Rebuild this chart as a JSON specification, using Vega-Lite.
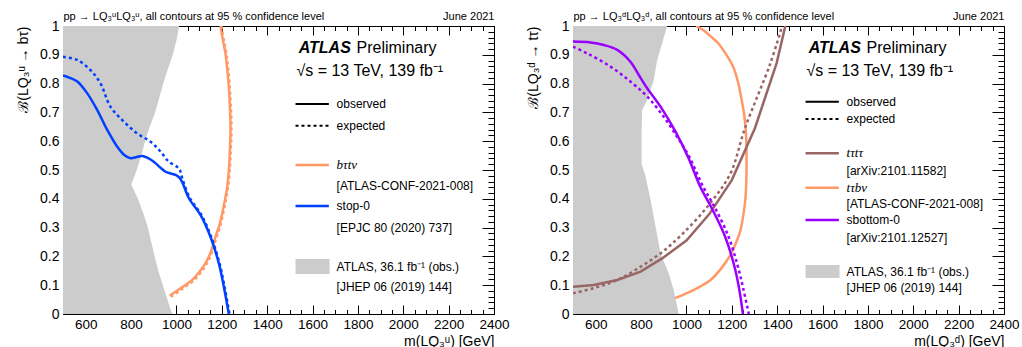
{
"$schema": "https://vega.github.io/schema/vega-lite/v6.json",
"background": "white",
"padding": {"left": 15, "top": 10, "right": 5, "bottom": 0},
"bounds": "flush",
"spacing": 79,
"config": {
  "view": {"stroke": null},
  "font": "Liberation Sans",
  "axis": {"grid": false, "zindex": 1, "tickColor": "black", "tickWidth": 1, "domainColor": "black", "domainWidth": 1, "labelColor": "black", "titleColor": "black", "labelFont": "Liberation Sans", "titleFont": "Liberation Sans", "titleFontWeight": "normal"}
},
"datasets": {
  "lg": [{"m":981,"b":0},{"m":960,"b":0.05},{"m":940,"b":0.1},{"m":920,"b":0.15},{"m":904,"b":0.2},{"m":889,"b":0.25},{"m":874,"b":0.3},{"m":854,"b":0.35},{"m":830,"b":0.4},{"m":801,"b":0.45},{"m":825,"b":0.5},{"m":845,"b":0.55},{"m":862,"b":0.6},{"m":882,"b":0.65},{"m":906,"b":0.7},{"m":924,"b":0.75},{"m":942,"b":0.8},{"m":962,"b":0.85},{"m":984,"b":0.9},{"m":1000,"b":0.95},{"m":1012,"b":1}],
  "rg": [{"m":966,"b":0},{"m":944,"b":0.083},{"m":922,"b":0.141},{"m":886,"b":0.21},{"m":864,"b":0.303},{"m":842,"b":0.396},{"m":820,"b":0.477},{"m":802,"b":0.523},{"m":802,"b":0.627},{"m":805,"b":0.708},{"m":827,"b":0.743},{"m":856,"b":0.8125},{"m":871,"b":0.882},{"m":893,"b":0.94},{"m":915,"b":1}],
  "ll": [
    {"series":"stop0","kind":"observed","i":1,"m":500,"b":0.828},
    {"series":"stop0","kind":"observed","i":2,"m":530,"b":0.82},
    {"series":"stop0","kind":"observed","i":3,"m":563,"b":0.807},
    {"series":"stop0","kind":"observed","i":4,"m":607,"b":0.766},
    {"series":"stop0","kind":"observed","i":5,"m":651,"b":0.708},
    {"series":"stop0","kind":"observed","i":6,"m":695,"b":0.639},
    {"series":"stop0","kind":"observed","i":7,"m":739,"b":0.581},
    {"series":"stop0","kind":"observed","i":8,"m":770,"b":0.552},
    {"series":"stop0","kind":"observed","i":9,"m":798,"b":0.541},
    {"series":"stop0","kind":"observed","i":10,"m":825,"b":0.545},
    {"series":"stop0","kind":"observed","i":11,"m":849,"b":0.549},
    {"series":"stop0","kind":"observed","i":12,"m":875,"b":0.541},
    {"series":"stop0","kind":"observed","i":13,"m":900,"b":0.529},
    {"series":"stop0","kind":"observed","i":14,"m":930,"b":0.508},
    {"series":"stop0","kind":"observed","i":15,"m":952,"b":0.494},
    {"series":"stop0","kind":"observed","i":16,"m":975,"b":0.488},
    {"series":"stop0","kind":"observed","i":17,"m":996,"b":0.483},
    {"series":"stop0","kind":"observed","i":18,"m":1012,"b":0.474},
    {"series":"stop0","kind":"observed","i":19,"m":1025,"b":0.459},
    {"series":"stop0","kind":"observed","i":20,"m":1055,"b":0.402},
    {"series":"stop0","kind":"observed","i":21,"m":1106,"b":0.344},
    {"series":"stop0","kind":"observed","i":22,"m":1150,"b":0.268},
    {"series":"stop0","kind":"observed","i":23,"m":1187,"b":0.176},
    {"series":"stop0","kind":"observed","i":24,"m":1209,"b":0.095},
    {"series":"stop0","kind":"observed","i":25,"m":1231,"b":0},
    {"series":"stop0","kind":"expected","i":1,"m":500,"b":0.893},
    {"series":"stop0","kind":"expected","i":2,"m":563,"b":0.882},
    {"series":"stop0","kind":"expected","i":3,"m":621,"b":0.847},
    {"series":"stop0","kind":"expected","i":4,"m":665,"b":0.801},
    {"series":"stop0","kind":"expected","i":5,"m":709,"b":0.72},
    {"series":"stop0","kind":"expected","i":6,"m":768,"b":0.668},
    {"series":"stop0","kind":"expected","i":7,"m":827,"b":0.627},
    {"series":"stop0","kind":"expected","i":8,"m":886,"b":0.598},
    {"series":"stop0","kind":"expected","i":9,"m":930,"b":0.564},
    {"series":"stop0","kind":"expected","i":10,"m":966,"b":0.529},
    {"series":"stop0","kind":"expected","i":11,"m":1003,"b":0.511},
    {"series":"stop0","kind":"expected","i":12,"m":1015,"b":0.5},
    {"series":"stop0","kind":"expected","i":13,"m":1028,"b":0.465},
    {"series":"stop0","kind":"expected","i":14,"m":1060,"b":0.402},
    {"series":"stop0","kind":"expected","i":15,"m":1110,"b":0.344},
    {"series":"stop0","kind":"expected","i":16,"m":1153,"b":0.268},
    {"series":"stop0","kind":"expected","i":17,"m":1190,"b":0.176},
    {"series":"stop0","kind":"expected","i":18,"m":1212,"b":0.095},
    {"series":"stop0","kind":"expected","i":19,"m":1234,"b":0},
    {"series":"btnu","kind":"observed","i":1,"m":971,"b":0.064},
    {"series":"btnu","kind":"observed","i":2,"m":1020,"b":0.09},
    {"series":"btnu","kind":"observed","i":3,"m":1077,"b":0.124},
    {"series":"btnu","kind":"observed","i":4,"m":1110,"b":0.155},
    {"series":"btnu","kind":"observed","i":5,"m":1136,"b":0.1875},
    {"series":"btnu","kind":"observed","i":6,"m":1156,"b":0.225},
    {"series":"btnu","kind":"observed","i":7,"m":1172,"b":0.268},
    {"series":"btnu","kind":"observed","i":8,"m":1190,"b":0.31},
    {"series":"btnu","kind":"observed","i":9,"m":1202,"b":0.35},
    {"series":"btnu","kind":"observed","i":10,"m":1215,"b":0.4},
    {"series":"btnu","kind":"observed","i":11,"m":1224,"b":0.442},
    {"series":"btnu","kind":"observed","i":12,"m":1231,"b":0.5},
    {"series":"btnu","kind":"observed","i":13,"m":1235,"b":0.558},
    {"series":"btnu","kind":"observed","i":14,"m":1238,"b":0.62},
    {"series":"btnu","kind":"observed","i":15,"m":1238,"b":0.674},
    {"series":"btnu","kind":"observed","i":16,"m":1235,"b":0.73},
    {"series":"btnu","kind":"observed","i":17,"m":1231,"b":0.789},
    {"series":"btnu","kind":"observed","i":18,"m":1224,"b":0.85},
    {"series":"btnu","kind":"observed","i":19,"m":1216,"b":0.905},
    {"series":"btnu","kind":"observed","i":20,"m":1205,"b":0.95},
    {"series":"btnu","kind":"observed","i":21,"m":1194,"b":1},
    {"series":"btnu","kind":"expected","i":1,"m":975,"b":0.06},
    {"series":"btnu","kind":"expected","i":2,"m":1024,"b":0.086},
    {"series":"btnu","kind":"expected","i":3,"m":1081,"b":0.12},
    {"series":"btnu","kind":"expected","i":4,"m":1114,"b":0.151},
    {"series":"btnu","kind":"expected","i":5,"m":1140,"b":0.184},
    {"series":"btnu","kind":"expected","i":6,"m":1160,"b":0.222},
    {"series":"btnu","kind":"expected","i":7,"m":1176,"b":0.265},
    {"series":"btnu","kind":"expected","i":8,"m":1194,"b":0.308},
    {"series":"btnu","kind":"expected","i":9,"m":1206,"b":0.35},
    {"series":"btnu","kind":"expected","i":10,"m":1219,"b":0.4},
    {"series":"btnu","kind":"expected","i":11,"m":1228,"b":0.442},
    {"series":"btnu","kind":"expected","i":12,"m":1235,"b":0.5},
    {"series":"btnu","kind":"expected","i":13,"m":1239,"b":0.558},
    {"series":"btnu","kind":"expected","i":14,"m":1242,"b":0.62},
    {"series":"btnu","kind":"expected","i":15,"m":1242,"b":0.674},
    {"series":"btnu","kind":"expected","i":16,"m":1239,"b":0.73},
    {"series":"btnu","kind":"expected","i":17,"m":1235,"b":0.789},
    {"series":"btnu","kind":"expected","i":18,"m":1228,"b":0.85},
    {"series":"btnu","kind":"expected","i":19,"m":1220,"b":0.905},
    {"series":"btnu","kind":"expected","i":20,"m":1209,"b":0.95},
    {"series":"btnu","kind":"expected","i":21,"m":1198,"b":1}
  ],
  "rl": [
    {"series":"sbottom0","kind":"observed","i":1,"m":500,"b":0.946},
    {"series":"sbottom0","kind":"observed","i":2,"m":577,"b":0.943},
    {"series":"sbottom0","kind":"observed","i":3,"m":636,"b":0.934},
    {"series":"sbottom0","kind":"observed","i":4,"m":695,"b":0.917},
    {"series":"sbottom0","kind":"observed","i":5,"m":753,"b":0.876},
    {"series":"sbottom0","kind":"observed","i":6,"m":790,"b":0.83},
    {"series":"sbottom0","kind":"observed","i":7,"m":827,"b":0.784},
    {"series":"sbottom0","kind":"observed","i":8,"m":886,"b":0.72},
    {"series":"sbottom0","kind":"observed","i":9,"m":952,"b":0.633},
    {"series":"sbottom0","kind":"observed","i":10,"m":1010,"b":0.54},
    {"series":"sbottom0","kind":"observed","i":11,"m":1062,"b":0.44},
    {"series":"sbottom0","kind":"observed","i":12,"m":1110,"b":0.37},
    {"series":"sbottom0","kind":"observed","i":13,"m":1170,"b":0.27},
    {"series":"sbottom0","kind":"observed","i":14,"m":1210,"b":0.17},
    {"series":"sbottom0","kind":"observed","i":15,"m":1232,"b":0.09},
    {"series":"sbottom0","kind":"observed","i":16,"m":1249,"b":0},
    {"series":"sbottom0","kind":"expected","i":1,"m":500,"b":0.928},
    {"series":"sbottom0","kind":"expected","i":2,"m":563,"b":0.905},
    {"series":"sbottom0","kind":"expected","i":3,"m":665,"b":0.859},
    {"series":"sbottom0","kind":"expected","i":4,"m":753,"b":0.807},
    {"series":"sbottom0","kind":"expected","i":5,"m":827,"b":0.755},
    {"series":"sbottom0","kind":"expected","i":6,"m":900,"b":0.685},
    {"series":"sbottom0","kind":"expected","i":7,"m":959,"b":0.615},
    {"series":"sbottom0","kind":"expected","i":8,"m":1010,"b":0.55},
    {"series":"sbottom0","kind":"expected","i":9,"m":1075,"b":0.44},
    {"series":"sbottom0","kind":"expected","i":10,"m":1125,"b":0.37},
    {"series":"sbottom0","kind":"expected","i":11,"m":1185,"b":0.27},
    {"series":"sbottom0","kind":"expected","i":12,"m":1225,"b":0.17},
    {"series":"sbottom0","kind":"expected","i":13,"m":1250,"b":0.09},
    {"series":"sbottom0","kind":"expected","i":14,"m":1275,"b":0},
    {"series":"tataa","kind":"observed","i":1,"m":500,"b":0.095},
    {"series":"tataa","kind":"observed","i":2,"m":592,"b":0.101},
    {"series":"tataa","kind":"observed","i":3,"m":695,"b":0.118},
    {"series":"tataa","kind":"observed","i":4,"m":798,"b":0.147},
    {"series":"tataa","kind":"observed","i":5,"m":893,"b":0.193},
    {"series":"tataa","kind":"observed","i":6,"m":1000,"b":0.255},
    {"series":"tataa","kind":"observed","i":7,"m":1100,"b":0.346},
    {"series":"tataa","kind":"observed","i":8,"m":1200,"b":0.465},
    {"series":"tataa","kind":"observed","i":9,"m":1302,"b":0.645},
    {"series":"tataa","kind":"observed","i":10,"m":1398,"b":0.872},
    {"series":"tataa","kind":"observed","i":11,"m":1436,"b":1},
    {"series":"tataa","kind":"expected","i":1,"m":500,"b":0.072},
    {"series":"tataa","kind":"expected","i":2,"m":592,"b":0.09},
    {"series":"tataa","kind":"expected","i":3,"m":695,"b":0.118},
    {"series":"tataa","kind":"expected","i":4,"m":798,"b":0.164},
    {"series":"tataa","kind":"expected","i":5,"m":893,"b":0.215},
    {"series":"tataa","kind":"expected","i":6,"m":985,"b":0.28},
    {"series":"tataa","kind":"expected","i":7,"m":1100,"b":0.38},
    {"series":"tataa","kind":"expected","i":8,"m":1194,"b":0.488},
    {"series":"tataa","kind":"expected","i":9,"m":1258,"b":0.645},
    {"series":"tataa","kind":"expected","i":10,"m":1370,"b":0.87},
    {"series":"tataa","kind":"expected","i":11,"m":1422,"b":1},
    {"series":"tbnu","kind":"observed","i":1,"m":950,"b":0.055},
    {"series":"tbnu","kind":"observed","i":2,"m":1010,"b":0.075},
    {"series":"tbnu","kind":"observed","i":3,"m":1060,"b":0.095},
    {"series":"tbnu","kind":"observed","i":4,"m":1106,"b":0.118},
    {"series":"tbnu","kind":"observed","i":5,"m":1150,"b":0.155},
    {"series":"tbnu","kind":"observed","i":6,"m":1194,"b":0.205},
    {"series":"tbnu","kind":"observed","i":7,"m":1220,"b":0.25},
    {"series":"tbnu","kind":"observed","i":8,"m":1238,"b":0.29},
    {"series":"tbnu","kind":"observed","i":9,"m":1252,"b":0.35},
    {"series":"tbnu","kind":"observed","i":10,"m":1260,"b":0.4},
    {"series":"tbnu","kind":"observed","i":11,"m":1264,"b":0.46},
    {"series":"tbnu","kind":"observed","i":12,"m":1265,"b":0.55},
    {"series":"tbnu","kind":"observed","i":13,"m":1263,"b":0.62},
    {"series":"tbnu","kind":"observed","i":14,"m":1255,"b":0.69},
    {"series":"tbnu","kind":"observed","i":15,"m":1242,"b":0.75},
    {"series":"tbnu","kind":"observed","i":16,"m":1226,"b":0.81},
    {"series":"tbnu","kind":"observed","i":17,"m":1205,"b":0.86},
    {"series":"tbnu","kind":"observed","i":18,"m":1172,"b":0.905},
    {"series":"tbnu","kind":"observed","i":19,"m":1140,"b":0.94},
    {"series":"tbnu","kind":"observed","i":20,"m":1106,"b":0.965},
    {"series":"tbnu","kind":"observed","i":21,"m":1075,"b":0.985},
    {"series":"tbnu","kind":"observed","i":22,"m":1043,"b":1}
  ]
},
"hconcat": [
{
  "width": 431, "height": 288,
  "resolve": {"axis": {"x": "independent", "y": "independent"}},
  "layer": [
    {"data": {"name": "lg"},
     "mark": {"type": "area", "orient": "horizontal", "fill": "#cccccc", "clip": true},
     "encoding": {
       "x": {"field": "m", "type": "quantitative", "scale": {"domain": [500, 2400], "nice": false, "zero": false},
             "axis": {"orient": "bottom", "values": [600,800,1000,1200,1400,1600,1800,2000,2200,2400], "format": "d", "tickSize": -9, "labelPadding": 12, "labelFontSize": 13.5, "labelOverlap": false, "labelFlush": false, "domain": true,
                      "title": "m(LQ₃ᵘ) [GeV]", "titleAnchor": "end", "titleAlign": "right", "titleFontSize": 14, "titleY": 31, "titleBaseline": "alphabetic"}},
       "x2": {"datum": 500},
       "y": {"field": "b", "type": "quantitative", "scale": {"domain": [0, 1], "nice": false, "zero": false},
             "axis": {"orient": "left", "values": [0,0.1,0.2,0.3,0.4,0.5,0.6,0.7,0.8,0.9,1], "format": ".1~f", "tickSize": -12, "labelPadding": 16, "labelFontSize": 14, "labelOverlap": false, "labelFlush": false, "domain": true,
                      "title": "ℬ(LQ₃ᵘ → bτ)", "titleAnchor": "end", "titleAlign": "right", "titleX": -40, "titleBaseline": "middle", "titleFontSize": 14}}
     }},
    {"data": {"name": "ll"},
     "transform": [{"filter": "datum.series === 'btnu' && datum.kind === 'observed'"}],
     "mark": {"type": "line", "stroke": "#ff9966", "strokeWidth": 2.5, "interpolate": "catmull-rom", "clip": true},
     "encoding": {
       "x": {"field": "m", "type": "quantitative", "scale": {"domain": [500, 2400], "nice": false, "zero": false},
             "axis": {"orient": "bottom", "values": [550,650,700,750,850,900,950,1050,1100,1150,1250,1300,1350,1450,1500,1550,1650,1700,1750,1850,1900,1950,2050,2100,2150,2250,2300,2350], "tickSize": -4.5, "labels": false, "domain": false, "title": null}},
       "y": {"field": "b", "type": "quantitative", "scale": {"domain": [0, 1], "nice": false, "zero": false},
             "axis": {"orient": "left", "values": [0.02,0.04,0.06,0.08,0.12,0.14,0.16,0.18,0.22,0.24,0.26,0.28,0.32,0.34,0.36,0.38,0.42,0.44,0.46,0.48,0.52,0.54,0.56,0.58,0.62,0.64,0.66,0.68,0.72,0.74,0.76,0.78,0.82,0.84,0.86,0.88,0.92,0.94,0.96,0.98], "tickSize": -6, "labels": false, "domain": false, "title": null}},
       "order": {"field": "i", "type": "quantitative"}
     }},
    {"data": {"name": "ll"},
     "transform": [{"filter": "datum.series === 'btnu' && datum.kind === 'expected'"}],
     "mark": {"type": "line", "stroke": "#ff9966", "strokeWidth": 2.5, "strokeDash": [3, 3], "interpolate": "catmull-rom", "clip": true},
     "encoding": {
       "x": {"field": "m", "type": "quantitative", "scale": {"domain": [500, 2400], "nice": false, "zero": false},
             "axis": {"orient": "top", "values": [600,800,1000,1200,1400,1600,1800,2000,2200,2400], "tickSize": -9, "labels": false, "domain": true,
                      "title": "June 2021", "titleAnchor": "end", "titleAlign": "right", "titleFontSize": 11, "titleY": -7, "titleBaseline": "alphabetic"}},
       "y": {"field": "b", "type": "quantitative", "scale": {"domain": [0, 1], "nice": false, "zero": false},
             "axis": {"orient": "right", "values": [0,0.1,0.2,0.3,0.4,0.5,0.6,0.7,0.8,0.9,1], "tickSize": -12, "labels": false, "domain": true, "title": null}},
       "order": {"field": "i", "type": "quantitative"}
     }},
    {"data": {"name": "ll"},
     "transform": [{"filter": "datum.series === 'stop0' && datum.kind === 'expected'"}],
     "mark": {"type": "line", "stroke": "#0040ff", "strokeWidth": 2.5, "strokeDash": [3, 3], "interpolate": "catmull-rom", "clip": true},
     "encoding": {
       "x": {"field": "m", "type": "quantitative", "scale": {"domain": [500, 2400], "nice": false, "zero": false},
             "axis": {"orient": "top", "values": [550,650,700,750,850,900,950,1050,1100,1150,1250,1300,1350,1450,1500,1550,1650,1700,1750,1850,1900,1950,2050,2100,2150,2250,2300,2350], "tickSize": -4.5, "labels": false, "domain": false,
                      "title": "pp → LQ₃ᵘLQ₃ᵘ, all contours at 95 % confidence level", "titleAnchor": "start", "titleAlign": "left", "titleFontSize": 11, "titleY": -7, "titleBaseline": "alphabetic"}},
       "y": {"field": "b", "type": "quantitative", "scale": {"domain": [0, 1], "nice": false, "zero": false},
             "axis": {"orient": "right", "values": [0.02,0.04,0.06,0.08,0.12,0.14,0.16,0.18,0.22,0.24,0.26,0.28,0.32,0.34,0.36,0.38,0.42,0.44,0.46,0.48,0.52,0.54,0.56,0.58,0.62,0.64,0.66,0.68,0.72,0.74,0.76,0.78,0.82,0.84,0.86,0.88,0.92,0.94,0.96,0.98], "tickSize": -6, "labels": false, "domain": false, "title": null}},
       "order": {"field": "i", "type": "quantitative"}
     }},
    {"data": {"name": "ll"},
     "transform": [{"filter": "datum.series === 'stop0' && datum.kind === 'observed'"}],
     "mark": {"type": "line", "stroke": "#0040ff", "strokeWidth": 2.5, "interpolate": "catmull-rom", "clip": true},
     "encoding": {
       "x": {"field": "m", "type": "quantitative", "axis": null},
       "y": {"field": "b", "type": "quantitative", "axis": null},
       "order": {"field": "i", "type": "quantitative"}
     }},
    {"data": {"values": [{}]}, "mark": {"type": "text", "text": "ATLAS", "align": "left", "baseline": "middle", "fontSize": 16, "fontStyle": "italic", "fontWeight": "bold", "fill": "black"},
     "encoding": {"x": {"datum": 1539, "type": "quantitative", "axis": null}, "y": {"datum": 0.925, "type": "quantitative", "axis": null}}},
    {"data": {"values": [{}]}, "mark": {"type": "text", "text": "Preliminary", "align": "left", "baseline": "middle", "fontSize": 16, "fill": "black"},
     "encoding": {"x": {"datum": 1794, "type": "quantitative", "axis": null}, "y": {"datum": 0.925, "type": "quantitative", "axis": null}}},
    {"data": {"values": [{}]}, "mark": {"type": "text", "text": "√s = 13 TeV, 139 fb⁻¹", "align": "left", "baseline": "middle", "fontSize": 16, "fill": "black"},
     "encoding": {"x": {"datum": 1529, "type": "quantitative", "axis": null}, "y": {"datum": 0.845, "type": "quantitative", "axis": null}}},
    {"data": {"values": [{}]}, "mark": {"type": "rule", "stroke": "black", "strokeWidth": 2},
     "encoding": {"x": {"datum": 1525, "type": "quantitative", "axis": null}, "x2": {"datum": 1672}, "y": {"datum": 0.729, "type": "quantitative", "axis": null}}},
    {"data": {"values": [{}]}, "mark": {"type": "text", "text": "observed", "align": "left", "baseline": "middle", "fontSize": 12, "fill": "black"},
     "encoding": {"x": {"datum": 1706, "type": "quantitative", "axis": null}, "y": {"datum": 0.729, "type": "quantitative", "axis": null}}},
    {"data": {"values": [{}]}, "mark": {"type": "rule", "stroke": "black", "strokeWidth": 2, "strokeDash": [3, 3]},
     "encoding": {"x": {"datum": 1525, "type": "quantitative", "axis": null}, "x2": {"datum": 1672}, "y": {"datum": 0.654, "type": "quantitative", "axis": null}}},
    {"data": {"values": [{}]}, "mark": {"type": "text", "text": "expected", "align": "left", "baseline": "middle", "fontSize": 12, "fill": "black"},
     "encoding": {"x": {"datum": 1706, "type": "quantitative", "axis": null}, "y": {"datum": 0.654, "type": "quantitative", "axis": null}}},
    {"data": {"values": [{}]}, "mark": {"type": "rule", "stroke": "#ff9966", "strokeWidth": 2.5},
     "encoding": {"x": {"datum": 1525, "type": "quantitative", "axis": null}, "x2": {"datum": 1672}, "y": {"datum": 0.517, "type": "quantitative", "axis": null}}},
    {"data": {"values": [{}]}, "mark": {"type": "text", "text": "bτtν", "align": "left", "baseline": "middle", "fontSize": 13, "font": "Liberation Serif", "fontStyle": "italic", "fill": "black"},
     "encoding": {"x": {"datum": 1706, "type": "quantitative", "axis": null}, "y": {"datum": 0.517, "type": "quantitative", "axis": null}}},
    {"data": {"values": [{}]}, "mark": {"type": "text", "text": "[ATLAS-CONF-2021-008]", "align": "left", "baseline": "middle", "fontSize": 12, "fill": "black"},
     "encoding": {"x": {"datum": 1706, "type": "quantitative", "axis": null}, "y": {"datum": 0.445, "type": "quantitative", "axis": null}}},
    {"data": {"values": [{}]}, "mark": {"type": "rule", "stroke": "#0040ff", "strokeWidth": 2.5},
     "encoding": {"x": {"datum": 1525, "type": "quantitative", "axis": null}, "x2": {"datum": 1672}, "y": {"datum": 0.375, "type": "quantitative", "axis": null}}},
    {"data": {"values": [{}]}, "mark": {"type": "text", "text": "stop-0", "align": "left", "baseline": "middle", "fontSize": 12, "fill": "black"},
     "encoding": {"x": {"datum": 1706, "type": "quantitative", "axis": null}, "y": {"datum": 0.375, "type": "quantitative", "axis": null}}},
    {"data": {"values": [{}]}, "mark": {"type": "text", "text": "[EPJC 80 (2020) 737]", "align": "left", "baseline": "middle", "fontSize": 12, "fill": "black"},
     "encoding": {"x": {"datum": 1706, "type": "quantitative", "axis": null}, "y": {"datum": 0.30, "type": "quantitative", "axis": null}}},
    {"data": {"values": [{}]}, "mark": {"type": "rect", "fill": "#cccccc"},
     "encoding": {"x": {"datum": 1525, "type": "quantitative", "axis": null}, "x2": {"datum": 1675}, "y": {"datum": 0.191, "type": "quantitative", "axis": null}, "y2": {"datum": 0.139}}},
    {"data": {"values": [{}]}, "mark": {"type": "text", "text": "ATLAS, 36.1 fb⁻¹ (obs.)", "align": "left", "baseline": "middle", "fontSize": 12, "fill": "black"},
     "encoding": {"x": {"datum": 1706, "type": "quantitative", "axis": null}, "y": {"datum": 0.164, "type": "quantitative", "axis": null}}},
    {"data": {"values": [{}]}, "mark": {"type": "text", "text": "[JHEP 06 (2019) 144]", "align": "left", "baseline": "middle", "fontSize": 12, "fill": "black"},
     "encoding": {"x": {"datum": 1706, "type": "quantitative", "axis": null}, "y": {"datum": 0.093, "type": "quantitative", "axis": null}}}
  ]
},
{
  "width": 431, "height": 288,
  "resolve": {"axis": {"x": "independent", "y": "independent"}},
  "layer": [
    {"data": {"name": "rg"},
     "mark": {"type": "area", "orient": "horizontal", "fill": "#cccccc", "clip": true},
     "encoding": {
       "x": {"field": "m", "type": "quantitative", "scale": {"domain": [500, 2400], "nice": false, "zero": false},
             "axis": {"orient": "bottom", "values": [600,800,1000,1200,1400,1600,1800,2000,2200,2400], "format": "d", "tickSize": -9, "labelPadding": 12, "labelFontSize": 13.5, "labelOverlap": false, "labelFlush": false, "domain": true,
                      "title": "m(LQ₃ᵈ) [GeV]", "titleAnchor": "end", "titleAlign": "right", "titleFontSize": 14, "titleY": 31, "titleBaseline": "alphabetic"}},
       "x2": {"datum": 500},
       "y": {"field": "b", "type": "quantitative", "scale": {"domain": [0, 1], "nice": false, "zero": false},
             "axis": {"orient": "left", "values": [0,0.1,0.2,0.3,0.4,0.5,0.6,0.7,0.8,0.9,1], "format": ".1~f", "tickSize": -12, "labelPadding": 16, "labelFontSize": 14, "labelOverlap": false, "labelFlush": false, "domain": true,
                      "title": "ℬ(LQ₃ᵈ → tτ)", "titleAnchor": "end", "titleAlign": "right", "titleX": -40, "titleBaseline": "middle", "titleFontSize": 14}}
     }},
    {"data": {"name": "rl"},
     "transform": [{"filter": "datum.series === 'tbnu' && datum.kind === 'observed'"}],
     "mark": {"type": "line", "stroke": "#ff9966", "strokeWidth": 2.5, "interpolate": "catmull-rom", "clip": true},
     "encoding": {
       "x": {"field": "m", "type": "quantitative", "scale": {"domain": [500, 2400], "nice": false, "zero": false},
             "axis": {"orient": "bottom", "values": [550,650,700,750,850,900,950,1050,1100,1150,1250,1300,1350,1450,1500,1550,1650,1700,1750,1850,1900,1950,2050,2100,2150,2250,2300,2350], "tickSize": -4.5, "labels": false, "domain": false, "title": null}},
       "y": {"field": "b", "type": "quantitative", "scale": {"domain": [0, 1], "nice": false, "zero": false},
             "axis": {"orient": "left", "values": [0.02,0.04,0.06,0.08,0.12,0.14,0.16,0.18,0.22,0.24,0.26,0.28,0.32,0.34,0.36,0.38,0.42,0.44,0.46,0.48,0.52,0.54,0.56,0.58,0.62,0.64,0.66,0.68,0.72,0.74,0.76,0.78,0.82,0.84,0.86,0.88,0.92,0.94,0.96,0.98], "tickSize": -6, "labels": false, "domain": false, "title": null}},
       "order": {"field": "i", "type": "quantitative"}
     }},
    {"data": {"name": "rl"},
     "transform": [{"filter": "datum.series === 'tataa' && datum.kind === 'expected'"}],
     "mark": {"type": "line", "stroke": "#996666", "strokeWidth": 2.5, "strokeDash": [3, 3], "interpolate": "catmull-rom", "clip": true},
     "encoding": {
       "x": {"field": "m", "type": "quantitative", "scale": {"domain": [500, 2400], "nice": false, "zero": false},
             "axis": {"orient": "top", "values": [600,800,1000,1200,1400,1600,1800,2000,2200,2400], "tickSize": -9, "labels": false, "domain": true,
                      "title": "June 2021", "titleAnchor": "end", "titleAlign": "right", "titleFontSize": 11, "titleY": -7, "titleBaseline": "alphabetic"}},
       "y": {"field": "b", "type": "quantitative", "scale": {"domain": [0, 1], "nice": false, "zero": false},
             "axis": {"orient": "right", "values": [0,0.1,0.2,0.3,0.4,0.5,0.6,0.7,0.8,0.9,1], "tickSize": -12, "labels": false, "domain": true, "title": null}},
       "order": {"field": "i", "type": "quantitative"}
     }},
    {"data": {"name": "rl"},
     "transform": [{"filter": "datum.series === 'tataa' && datum.kind === 'observed'"}],
     "mark": {"type": "line", "stroke": "#996666", "strokeWidth": 2.5, "interpolate": "linear", "clip": true},
     "encoding": {
       "x": {"field": "m", "type": "quantitative", "scale": {"domain": [500, 2400], "nice": false, "zero": false},
             "axis": {"orient": "top", "values": [550,650,700,750,850,900,950,1050,1100,1150,1250,1300,1350,1450,1500,1550,1650,1700,1750,1850,1900,1950,2050,2100,2150,2250,2300,2350], "tickSize": -4.5, "labels": false, "domain": false,
                      "title": "pp → LQ₃ᵈLQ₃ᵈ, all contours at 95 % confidence level", "titleAnchor": "start", "titleAlign": "left", "titleFontSize": 11, "titleY": -7, "titleBaseline": "alphabetic"}},
       "y": {"field": "b", "type": "quantitative", "scale": {"domain": [0, 1], "nice": false, "zero": false},
             "axis": {"orient": "right", "values": [0.02,0.04,0.06,0.08,0.12,0.14,0.16,0.18,0.22,0.24,0.26,0.28,0.32,0.34,0.36,0.38,0.42,0.44,0.46,0.48,0.52,0.54,0.56,0.58,0.62,0.64,0.66,0.68,0.72,0.74,0.76,0.78,0.82,0.84,0.86,0.88,0.92,0.94,0.96,0.98], "tickSize": -6, "labels": false, "domain": false, "title": null}},
       "order": {"field": "i", "type": "quantitative"}
     }},
    {"data": {"name": "rl"},
     "transform": [{"filter": "datum.series === 'sbottom0' && datum.kind === 'expected'"}],
     "mark": {"type": "line", "stroke": "#9900ff", "strokeWidth": 2.5, "strokeDash": [3, 3], "interpolate": "catmull-rom", "clip": true},
     "encoding": {
       "x": {"field": "m", "type": "quantitative", "axis": null},
       "y": {"field": "b", "type": "quantitative", "axis": null},
       "order": {"field": "i", "type": "quantitative"}
     }},
    {"data": {"name": "rl"},
     "transform": [{"filter": "datum.series === 'sbottom0' && datum.kind === 'observed'"}],
     "mark": {"type": "line", "stroke": "#9900ff", "strokeWidth": 2.5, "interpolate": "catmull-rom", "clip": true},
     "encoding": {
       "x": {"field": "m", "type": "quantitative", "axis": null},
       "y": {"field": "b", "type": "quantitative", "axis": null},
       "order": {"field": "i", "type": "quantitative"}
     }},
    {"data": {"values": [{}]}, "mark": {"type": "text", "text": "ATLAS", "align": "left", "baseline": "middle", "fontSize": 16, "fontStyle": "italic", "fontWeight": "bold", "fill": "black"},
     "encoding": {"x": {"datum": 1539, "type": "quantitative", "axis": null}, "y": {"datum": 0.925, "type": "quantitative", "axis": null}}},
    {"data": {"values": [{}]}, "mark": {"type": "text", "text": "Preliminary", "align": "left", "baseline": "middle", "fontSize": 16, "fill": "black"},
     "encoding": {"x": {"datum": 1794, "type": "quantitative", "axis": null}, "y": {"datum": 0.925, "type": "quantitative", "axis": null}}},
    {"data": {"values": [{}]}, "mark": {"type": "text", "text": "√s = 13 TeV, 139 fb⁻¹", "align": "left", "baseline": "middle", "fontSize": 16, "fill": "black"},
     "encoding": {"x": {"datum": 1529, "type": "quantitative", "axis": null}, "y": {"datum": 0.844, "type": "quantitative", "axis": null}}},
    {"data": {"values": [{}]}, "mark": {"type": "rule", "stroke": "black", "strokeWidth": 2},
     "encoding": {"x": {"datum": 1525, "type": "quantitative", "axis": null}, "x2": {"datum": 1672}, "y": {"datum": 0.737, "type": "quantitative", "axis": null}}},
    {"data": {"values": [{}]}, "mark": {"type": "text", "text": "observed", "align": "left", "baseline": "middle", "fontSize": 12, "fill": "black"},
     "encoding": {"x": {"datum": 1706, "type": "quantitative", "axis": null}, "y": {"datum": 0.737, "type": "quantitative", "axis": null}}},
    {"data": {"values": [{}]}, "mark": {"type": "rule", "stroke": "black", "strokeWidth": 2, "strokeDash": [3, 3]},
     "encoding": {"x": {"datum": 1525, "type": "quantitative", "axis": null}, "x2": {"datum": 1672}, "y": {"datum": 0.677, "type": "quantitative", "axis": null}}},
    {"data": {"values": [{}]}, "mark": {"type": "text", "text": "expected", "align": "left", "baseline": "middle", "fontSize": 12, "fill": "black"},
     "encoding": {"x": {"datum": 1706, "type": "quantitative", "axis": null}, "y": {"datum": 0.677, "type": "quantitative", "axis": null}}},
    {"data": {"values": [{}]}, "mark": {"type": "rule", "stroke": "#996666", "strokeWidth": 2.5},
     "encoding": {"x": {"datum": 1525, "type": "quantitative", "axis": null}, "x2": {"datum": 1672}, "y": {"datum": 0.558, "type": "quantitative", "axis": null}}},
    {"data": {"values": [{}]}, "mark": {"type": "text", "text": "tτtτ", "align": "left", "baseline": "middle", "fontSize": 13, "font": "Liberation Serif", "fontStyle": "italic", "fill": "black"},
     "encoding": {"x": {"datum": 1706, "type": "quantitative", "axis": null}, "y": {"datum": 0.558, "type": "quantitative", "axis": null}}},
    {"data": {"values": [{}]}, "mark": {"type": "text", "text": "[arXiv:2101.11582]", "align": "left", "baseline": "middle", "fontSize": 12, "fill": "black"},
     "encoding": {"x": {"datum": 1706, "type": "quantitative", "axis": null}, "y": {"datum": 0.497, "type": "quantitative", "axis": null}}},
    {"data": {"values": [{}]}, "mark": {"type": "rule", "stroke": "#ff9966", "strokeWidth": 2.5},
     "encoding": {"x": {"datum": 1525, "type": "quantitative", "axis": null}, "x2": {"datum": 1672}, "y": {"datum": 0.4385, "type": "quantitative", "axis": null}}},
    {"data": {"values": [{}]}, "mark": {"type": "text", "text": "tτbν", "align": "left", "baseline": "middle", "fontSize": 13, "font": "Liberation Serif", "fontStyle": "italic", "fill": "black"},
     "encoding": {"x": {"datum": 1706, "type": "quantitative", "axis": null}, "y": {"datum": 0.4385, "type": "quantitative", "axis": null}}},
    {"data": {"values": [{}]}, "mark": {"type": "text", "text": "[ATLAS-CONF-2021-008]", "align": "left", "baseline": "middle", "fontSize": 12, "fill": "black"},
     "encoding": {"x": {"datum": 1706, "type": "quantitative", "axis": null}, "y": {"datum": 0.382, "type": "quantitative", "axis": null}}},
    {"data": {"values": [{}]}, "mark": {"type": "rule", "stroke": "#9900ff", "strokeWidth": 2.5},
     "encoding": {"x": {"datum": 1525, "type": "quantitative", "axis": null}, "x2": {"datum": 1672}, "y": {"datum": 0.326, "type": "quantitative", "axis": null}}},
    {"data": {"values": [{}]}, "mark": {"type": "text", "text": "sbottom-0", "align": "left", "baseline": "middle", "fontSize": 12, "fill": "black"},
     "encoding": {"x": {"datum": 1706, "type": "quantitative", "axis": null}, "y": {"datum": 0.326, "type": "quantitative", "axis": null}}},
    {"data": {"values": [{}]}, "mark": {"type": "text", "text": "[arXiv:2101.12527]", "align": "left", "baseline": "middle", "fontSize": 12, "fill": "black"},
     "encoding": {"x": {"datum": 1706, "type": "quantitative", "axis": null}, "y": {"datum": 0.265, "type": "quantitative", "axis": null}}},
    {"data": {"values": [{}]}, "mark": {"type": "rect", "fill": "#cccccc"},
     "encoding": {"x": {"datum": 1525, "type": "quantitative", "axis": null}, "x2": {"datum": 1675}, "y": {"datum": 0.17, "type": "quantitative", "axis": null}, "y2": {"datum": 0.125}}},
    {"data": {"values": [{}]}, "mark": {"type": "text", "text": "ATLAS, 36.1 fb⁻¹ (obs.)", "align": "left", "baseline": "middle", "fontSize": 12, "fill": "black"},
     "encoding": {"x": {"datum": 1706, "type": "quantitative", "axis": null}, "y": {"datum": 0.147, "type": "quantitative", "axis": null}}},
    {"data": {"values": [{}]}, "mark": {"type": "text", "text": "[JHEP 06 (2019) 144]", "align": "left", "baseline": "middle", "fontSize": 12, "fill": "black"},
     "encoding": {"x": {"datum": 1706, "type": "quantitative", "axis": null}, "y": {"datum": 0.089, "type": "quantitative", "axis": null}}}
  ]
}
]
}
